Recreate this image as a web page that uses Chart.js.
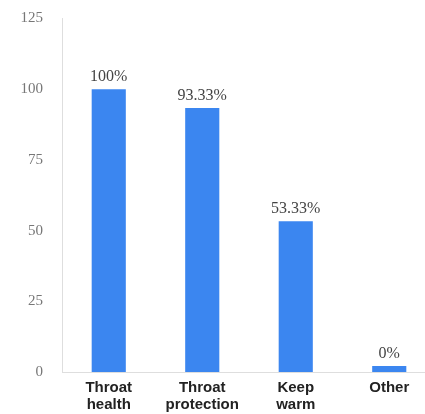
<!DOCTYPE html>
<html>
<head>
<meta charset="utf-8">
<script src="https://cdn.jsdelivr.net/npm/chart.js@4/dist/chart.umd.min.js"></script>
<style>
  html, body { margin: 0; padding: 0; background: #fff; overflow: hidden; }
  #wrap { width: 425px; height: 414px; overflow: hidden; }
  canvas { display: block; }
</style>
</head>
<body>
<div id="wrap"><canvas id="c" width="436" height="414"></canvas></div>
<script>
// Categories (two-line labels) and share of respondents, in percent
const categories = [["Throat", "health"], ["Throat", "protection"], ["Keep", "warm"], ["Other"]];
const percentages = [100, 93.33, 53.33, 0];
const yTicks = [0, 25, 50, 75, 100, 125];

// Writes "NN%" above each bar
const valueLabels = {
  id: 'valueLabels',
  afterDatasetsDraw(chart) {
    const ctx = chart.ctx;
    const meta = chart.getDatasetMeta(0);
    ctx.save();
    ctx.font = '16px "Liberation Serif", "Times New Roman", serif';
    ctx.fillStyle = '#444';
    ctx.textAlign = 'center';
    ctx.textBaseline = 'alphabetic';
    meta.data.forEach((bar, i) => {
      const top = Math.min(bar.y, bar.base - 6);
      ctx.fillText(String(percentages[i]) + '%', bar.x, top - 8);
    });
    ctx.restore();
  }
};

new Chart(document.getElementById('c'), {
  type: 'bar',
  data: {
    labels: categories,
    datasets: [{
      data: percentages,
      backgroundColor: '#3b86f0',
      borderWidth: 0,
      barPercentage: 0.365,
      categoryPercentage: 1,
      minBarLength: 6
    }]
  },
  options: {
    responsive: false,
    animation: false,
    devicePixelRatio: 1,
    layout: { padding: { top: 18.5, right: 0, bottom: 0, left: 0 } },
    plugins: { legend: { display: false }, tooltip: { enabled: false } },
    scales: {
      x: {
        grid: { display: false, drawTicks: false },
        border: { display: true, color: '#dedede', width: 1 },
        ticks: {
          padding: 8,
          color: '#222',
          font: { family: '"Liberation Sans", Arial, sans-serif', size: 15, weight: 'bold', lineHeight: 1.1 },
          maxRotation: 0,
          autoSkip: false
        },
        afterFit(scale) {
          scale.height = 42;
          scale.paddingLeft = 0;
          scale.paddingRight = 0;
        }
      },
      y: {
        min: 0,
        max: 125,
        afterBuildTicks(scale) { scale.ticks = yTicks.map(v => ({ value: v })); },
        grid: { display: false, drawTicks: false },
        border: { display: true, color: '#dedede', width: 1 },
        ticks: {
          padding: 19,
          color: '#777',
          font: { family: '"Liberation Serif", "Times New Roman", serif', size: 15 }
        },
        afterFit(scale) {
          scale.width = 62;
          scale.paddingTop = 0;
          scale.paddingBottom = 0;
        }
      }
    }
  },
  plugins: [valueLabels]
});
</script>
</body>
</html>
